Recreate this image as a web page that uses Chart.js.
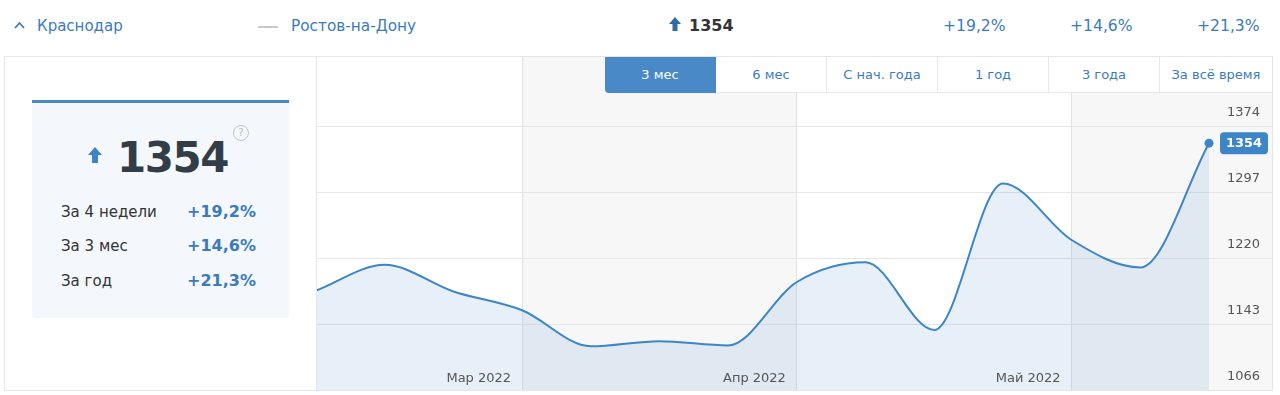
<!DOCTYPE html>
<html><head><meta charset="utf-8">
<script src="https://cdn.jsdelivr.net/npm/chart.js@4"></script>
<style>
body{margin:0;width:1280px;height:395px;background:#fff;font-family:"DejaVu Sans",Verdana,sans-serif;position:relative;overflow:hidden;color:#333}
.a{position:absolute;white-space:nowrap;line-height:20px}
.blue{color:#3b7bbd}
#box{position:absolute;left:4px;top:56px;width:1267px;height:333px;border:1px solid #e6e6e6}
#div{position:absolute;left:316px;top:57px;width:1px;height:333px;background:#e6e6e6;z-index:3}
#cv{position:absolute;left:316px;top:57px}
#card{position:absolute;left:32px;top:100px;width:257px;height:215px;background:#f4f8fc;border-top:3px solid #4a89c8;border-radius:0 0 3px 3px}
#btns{position:absolute;left:605px;top:57px;height:36px;display:flex;z-index:4}
#btns div{width:110px;height:35px;border-right:1px solid #e8e8e8;border-bottom:1px solid #e8e8e8;background:#fff;color:#3b7bbd;font-size:13px;display:flex;align-items:center;justify-content:center}
#btns div.on{background:#4a89c8;color:#fff;border-color:#4a89c8;border-radius:0 0 0 4px}
#btns div.last{width:112px;border-right:none}
</style></head><body>
<div class="a blue" style="left:14px;top:16px;font-size:15px"><svg width="11" height="8" style="vertical-align:2px;margin-right:12px"><path d="M1 7 L5.5 2 L10 7" fill="none" stroke="#3b7bbd" stroke-width="1.8"/></svg>Краснодар</div>
<div class="a" style="left:258px;top:26px;width:20px;height:2px;background:#c8c8c8"></div>
<div class="a blue" style="left:291px;top:16px;font-size:15.3px">Ростов-на-Дону</div>
<div class="a" style="left:669px;top:16px;font-size:16px;font-weight:bold;color:#333"><svg width="12" height="15" style="vertical-align:-1px;margin-right:8px"><path d="M6 0 L12 7 L8.5 7 L8.5 14 L3.5 14 L3.5 7 L0 7 Z" fill="#2f6da8"/></svg>1354</div>
<div class="a blue" style="left:943px;top:16px;font-size:15.6px">+19,2%</div>
<div class="a blue" style="left:1070px;top:16px;font-size:15.6px">+14,6%</div>
<div class="a blue" style="left:1197px;top:16px;font-size:15.6px">+21,3%</div>

<div id="box"></div>
<canvas id="cv" width="956" height="333"></canvas>
<div id="div"></div>
<div id="btns"><div class="on">3 мес</div><div>6 мес</div><div>С нач. года</div><div>1 год</div><div>3 года</div><div class="last">За всё время</div></div>

<div id="card"></div>
<svg class="a" style="left:88px;top:147px" width="14" height="17"><path d="M7 0 L14 8 L10 8 L10 16 L4 16 L4 8 L0 8 Z" fill="#3d85c6"/></svg>
<div class="a" style="left:117px;top:133px;font-size:42px;line-height:50px;font-weight:bold;color:#333d47;letter-spacing:-1.5px">1354</div>
<div class="a" style="left:233px;top:125px;width:14px;height:14px;border:1px solid #c4c4c4;border-radius:50%;font-size:10px;line-height:14px;text-align:center;color:#bbb">?</div>
<div class="a" style="left:61px;top:202px;font-size:15px;color:#333">За 4 недели</div>
<div class="a blue" style="left:187px;top:202px;font-size:16px;font-weight:bold">+19,2%</div>
<div class="a" style="left:61px;top:236px;font-size:15px;color:#333">За 3 мес</div>
<div class="a blue" style="left:187px;top:236px;font-size:16px;font-weight:bold">+14,6%</div>
<div class="a" style="left:61px;top:271px;font-size:15px;color:#333">За год</div>
<div class="a blue" style="left:187px;top:271px;font-size:16px;font-weight:bold">+21,3%</div>

<script>
const weeks = ['07.02','14.02','21.02','28.02','07.03','14.03','21.03','28.03','04.04','11.04','18.04','25.04','02.05','09.05'];
const values = [1182, 1212, 1181, 1159, 1117, 1123, 1118, 1192, 1215, 1136, 1307, 1241, 1209, 1354];
const monthTicks = [3, 7, 11];
const monthLabels = ['Мар 2022', 'Апр 2022', 'Май 2022'];
const yTicks = [1066, 1143, 1220, 1297, 1374];
const yTickLabels = ['1066', '1143', '1220', '1297', '1374'];

const BLUE = '#3d85c6';
const last = values.length - 1;

const decor = {
  id: 'decor',
  beforeDraw(chart) {
    const c = chart.ctx, x = chart.scales.x;
    const p = monthTicks.map(v => x.getPixelForValue(v));
    c.save();
    c.fillStyle = '#f7f7f7';
    c.fillRect(p[0], 0, p[1] - p[0], chart.height);
    c.fillRect(p[2], 0, chart.width - p[2], chart.height);
    c.restore();
  },
  afterDatasetsDraw(chart) {
    const c = chart.ctx, x = chart.scales.x, ca = chart.chartArea;
    c.save();
    c.font = '13px "DejaVu Sans"';
    c.fillStyle = '#555';
    c.textAlign = 'right';
    c.textBaseline = 'alphabetic';
    monthTicks.forEach((v, i) => c.fillText(monthLabels[i], x.getPixelForValue(v) - 11, ca.bottom - 8));
    const pt = chart.getDatasetMeta(0).data[last];
    const bx = pt.x + 11, by = pt.y - 11;
    c.fillStyle = BLUE;
    c.beginPath();
    c.roundRect(bx, by, 48, 22, 4);
    c.fill();
    c.fillStyle = '#fff';
    c.font = 'bold 13px "DejaVu Sans"';
    c.textAlign = 'center';
    c.textBaseline = 'middle';
    c.fillText(String(values[last]), bx + 24, by + 11.5);
    c.restore();
  }
};

new Chart(document.getElementById('cv'), {
  type: 'line',
  data: {
    labels: weeks,
    datasets: [{
      data: values.map((v, i) => ({x: i, y: v})),
      borderColor: BLUE,
      borderWidth: 2,
      backgroundColor: 'rgba(61,133,198,0.12)',
      fill: 'start',
      cubicInterpolationMode: 'monotone',
      pointRadius: ctx => ctx.dataIndex === last ? 4.5 : 0,
      pointBackgroundColor: BLUE,
      pointBorderWidth: 0,
      clip: false
    }]
  },
  options: {
    responsive: false,
    animation: false,
    layout: {padding: 0, autoPadding: false},
    plugins: {legend: {display: false}, tooltip: {enabled: false}},
    scales: {
      x: {
        type: 'linear', min: 0, max: 13.917,
        afterBuildTicks: s => { s.ticks = monthTicks.map(v => ({value: v})); },
        afterFit: s => { s.height = 0; s.paddingLeft = 0; s.paddingRight = 0; },
        ticks: {display: false},
        grid: {color: '#e2e2e2', drawTicks: false},
        border: {display: false}
      },
      y: {
        position: 'right', min: 1066, max: 1454.5,
        afterBuildTicks: s => { s.ticks = yTicks.map(v => ({value: v})); },
        afterFit: s => { s.width = 0; s.paddingTop = 0; s.paddingBottom = 0; },
        ticks: {
          mirror: true, padding: -12, labelOffset: -13, color: '#555',
          font: {family: 'DejaVu Sans', size: 13},
          callback: (v, i) => yTickLabels[i]
        },
        grid: {color: '#e6e6e6', drawTicks: false},
        border: {display: false}
      }
    }
  },
  plugins: [decor]
});
</script>
</body></html>
